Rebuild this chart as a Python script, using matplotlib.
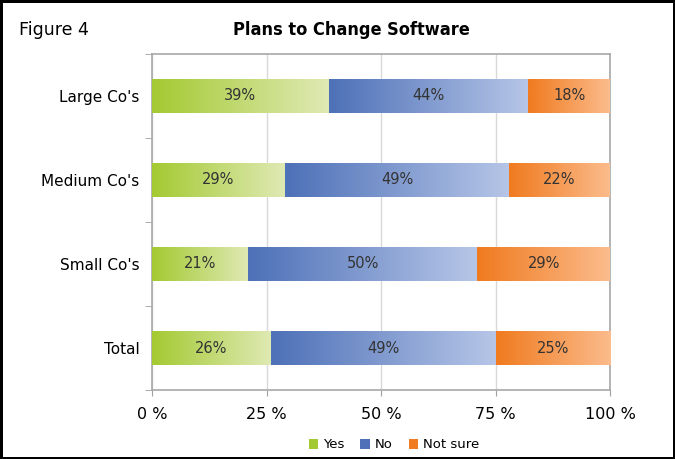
import matplotlib.pyplot as plt
from matplotlib.colors import LinearSegmentedColormap
from matplotlib.patches import Patch
import numpy as np

categories = ["Large Co's", "Medium Co's", "Small Co's", "Total"]
series = ["Yes", "No", "Not sure"]
yes = [39, 29, 21, 26]
no = [44, 49, 50, 49]
not_sure = [18, 22, 29, 25]

# left (dark) and right (light) colour of each gradient
grad = {
    "Yes": ("#a4ca33", "#dfe9b3"),
    "No": ("#4e71b8", "#b5c5e7"),
    "Not sure": ("#f07b20", "#fbbb8b"),
}

plt.rcParams['font.family'] = ['DejaVu Sans']

fig = plt.figure(figsize=(6.75, 4.59), dpi=100, linewidth=2.2, edgecolor='black')
ax = fig.add_axes([0.2252, 0.1503, 0.6785, 0.7321])

vals = np.array([yes, no, not_sure], dtype=float)
pct = vals / vals.sum(axis=0) * 100
ypos = np.arange(len(categories))
h = 0.4

left = np.zeros(len(categories))
for i, name in enumerate(series):
    cmap = LinearSegmentedColormap.from_list(name, grad[name])
    bars = ax.barh(ypos, pct[i], left=left, height=h, color=grad[name][1],
                   edgecolor='none', zorder=2)
    for j, b in enumerate(bars):
        x0, w = left[j], pct[i][j]
        im = ax.imshow(np.linspace(0, 1, 64).reshape(1, -1), cmap=cmap,
                       aspect='auto', extent=[x0, x0 + w, ypos[j] + h / 2, ypos[j] - h / 2],
                       interpolation='bilinear', zorder=3)
        im.set_clip_path(b)
        ax.text(x0 + w / 2, ypos[j], f"{int(vals[i][j])}%", ha='center', va='center',
                fontsize=10.5, color='#333333', zorder=4)
    left += pct[i]

ax.set_xlim(0, 100)
ax.set_ylim(len(categories) - 0.5, -0.5)
ax.set_xticks([0, 25, 50, 75, 100])
ax.set_xticklabels(["0 %", "25 %", "50 %", "75 %", "100 %"], fontsize=11.5)
ax.set_yticks(ypos)
ax.set_yticklabels(categories, fontsize=11)
ax.set_yticks(np.arange(-0.5, len(categories), 1), minor=True)
ax.tick_params(axis='y', which='major', length=0, pad=9)
ax.tick_params(axis='y', which='minor', length=5, color='#a0a0a0')
ax.tick_params(axis='x', length=4, color='#a0a0a0', pad=8)
ax.grid(axis='x', color='#d8d8d8', linewidth=1, zorder=0)
ax.set_axisbelow(True)
for s in ax.spines.values():
    s.set_color('#a8a8a8')
    s.set_linewidth(1.2)

fig.text(19 / 675, 1 - 30 / 459, "Figure 4", fontsize=12.5, va='center', ha='left')
fig.text(351 / 675, 1 - 30 / 459, "Plans to Change Software", fontsize=13,
         fontstretch='condensed', fontweight='bold', va='center', ha='center')

handles = [Patch(facecolor=grad[n][0], edgecolor='none') for n in series]
fig.legend(handles, series, loc='center', bbox_to_anchor=(394 / 675, 1 - 445 / 459),
           ncol=3, frameon=False, fontsize=9.5, handlelength=0.7, handleheight=0.7,
           handletextpad=0.4, columnspacing=1.2)

fig.savefig("out.png", dpi=100, edgecolor=fig.get_edgecolor())
